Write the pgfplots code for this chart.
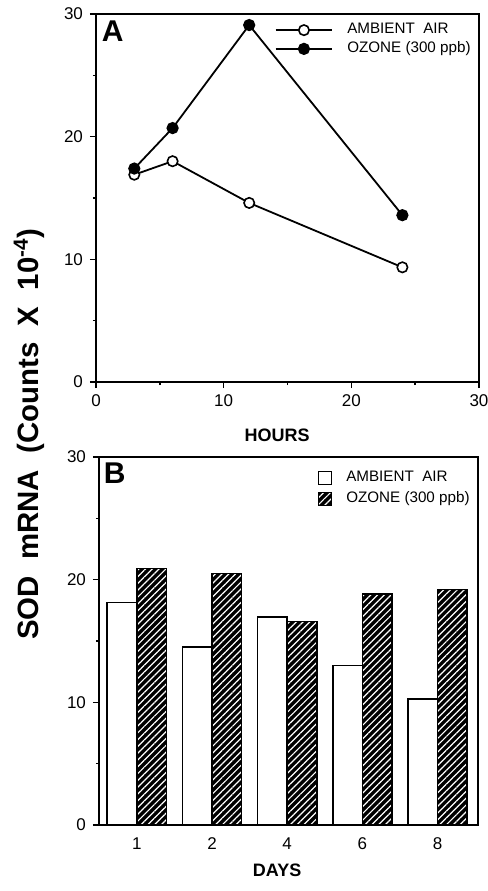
\documentclass[border=0pt]{standalone}
\usepackage{fontspec}
\setmainfont{Liberation Sans}
\usepackage{pgfplots}
\pgfplotsset{compat=1.18}
\usetikzlibrary{patterns.meta}
\pgfplotstableread{
x amb ozo
3 16.9 17.4
6 18.0 20.7
12 14.6 29.1
24 9.35 13.6
}\hoursdata
\pgfplotstableread{
x amb ozo
0 18.15 20.9
1 14.5 20.5
2 16.95 16.6
3 13.0 18.85
4 10.27 19.2
}\daysdata
\begin{document}
\begin{tikzpicture}
\useasboundingbox (0,0) rectangle (244pt,-445.5pt);
\pgfplotsset{
  common/.style={
    scale only axis,
    anchor=north west,
    tick pos=left,
    tick align=outside,
    major tick length=3pt,
    minor tick length=1.5pt,
    axis line style={line width=0.9pt},
    every tick/.style={line width=0.7pt,black},
    ticklabel style={font=\fontsize{8.5}{10}\selectfont},
    /pgf/number format/assume math mode=true,
    legend cell align=left,
  }
}
\begin{axis}[common,
  at={(48pt,-7pt)}, width=191.5pt, height=184pt,
  xmin=0, xmax=30, ymin=0, ymax=30,
  xtick={0,10,20,30}, ytick={0,10,20,30},
  minor xtick={5,15,25}, minor ytick={5,15,25},
  xlabel={\textbf{HOURS}},
  xlabel style={at={(rel axis cs:0.473,0)}, anchor=center, yshift=-26.5pt, font=\fontsize{9}{10}\selectfont},
  legend style={draw=none, fill=none, at={(rel axis cs:1,1)}, anchor=north east, xshift=1pt, yshift=-0.5pt,
    font=\fontsize{7.6}{9}\selectfont, row sep=-1.5pt},
  legend image code/.code={\draw[mark repeat=2,mark phase=2,#1] plot coordinates {(0pt,0pt) (14.2pt,0pt) (28.4pt,0pt)};},
]
\addplot[black, line width=0.9pt, mark=*, mark size=2.6pt, mark options={fill=white, line width=0.8pt}] table[x=x,y=amb] {\hoursdata};
\addlegendentry{\hspace{5pt}AMBIENT\ \ AIR}
\addplot[black, line width=0.9pt, mark=*, mark size=2.6pt, mark options={fill=black}] table[x=x,y=ozo] {\hoursdata};
\addlegendentry{\hspace{5pt}OZONE (300 ppb)}
\node[anchor=north west, font=\fontsize{15}{15}\selectfont\bfseries, inner sep=0pt] at (rel axis cs:0.014,0.982) {A};
\end{axis}

\begin{axis}[common,
  at={(49.5pt,-228.5pt)}, width=189.5pt, height=184pt,
  xmin=-0.503, xmax=4.537, ymin=0, ymax=30,
  ybar=0pt, bar width=0.393,
  xtick={0,1,2,3,4}, xticklabels={1,2,4,6,8},
  minor xtick={0.5,1.5,2.5,3.5},
  xtick style={draw=none},
  minor x tick style={line width=0.7pt, black},
  ytick={0,10,20,30}, minor ytick={5,15,25},
  xlabel={\textbf{DAYS}},
  xlabel style={at={(rel axis cs:0.47,0)}, anchor=center, yshift=-22.5pt, font=\fontsize{9}{10}\selectfont},
  legend style={draw=none, fill=none, at={(rel axis cs:1,1)}, anchor=north east, xshift=1pt, yshift=-3pt,
    font=\fontsize{7.6}{9}\selectfont, row sep=-0.5pt},
  legend image code/.code={\draw[#1] (0pt,-3.25pt) rectangle (6.5pt,3.25pt);},
]
\addplot[draw=black, line width=0.8pt, fill=white, bar shift=-0.1965] table[x=x,y=amb] {\daysdata};
\addlegendentry{\hspace{5pt}AMBIENT\ \ AIR}
\addplot[draw=black, line width=0.8pt, fill=black, postaction={pattern={Lines[angle=45, distance=2.4pt, line width=0.6pt]}, pattern color=white}, bar shift=0.1965] table[x=x,y=ozo] {\daysdata};
\addlegendentry{\hspace{5pt}OZONE (300 ppb)}
\node[anchor=north west, font=\fontsize{15}{15}\selectfont\bfseries, inner sep=0pt] at (rel axis cs:0.012,0.985) {B};
\end{axis}

\node[rotate=90, font=\fontsize{14.7}{16}\selectfont\bfseries] at (14.5pt,-217pt) {SOD\ \ mRNA\ \ (Counts\ \ X\ \ 10\textsuperscript{-4})};
\end{tikzpicture}
\end{document}
